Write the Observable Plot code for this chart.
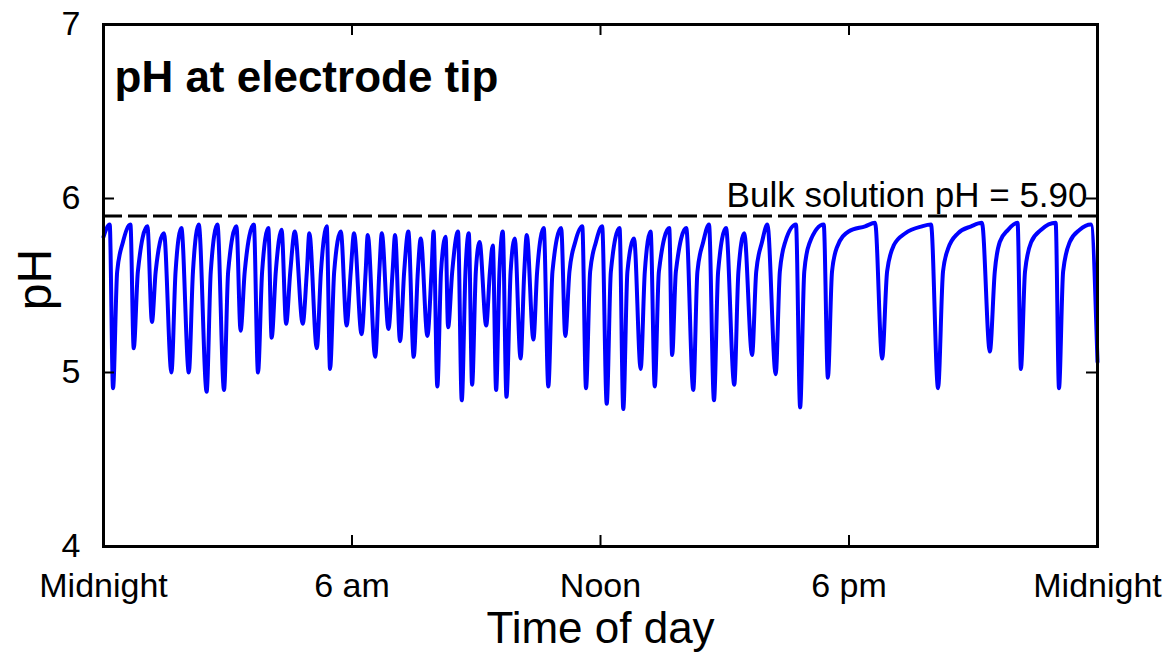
<!DOCTYPE html>
<html><head><meta charset="utf-8">
<script src="https://cdn.jsdelivr.net/npm/d3@7"></script>
<script src="https://cdn.jsdelivr.net/npm/@observablehq/plot@0.6"></script>
<style>
html,body{margin:0;padding:0;background:#fff;}
#chart svg{display:block;}
</style></head><body><div id="chart"></div>
<script>
// ---- Data ----
const xTicks = [0, 6, 12, 18, 24];
const xTickLabels = ["Midnight", "6 am", "Noon", "6 pm", "Midnight"];
const yTicks = [4, 5, 6, 7];
const yTickLabels = ["4", "5", "6", "7"];
const bulkPH = 5.90;
const bulkLabel = "Bulk solution pH = 5.90";
const chartTitle = "pH at electrode tip";
const xTitle = "Time of day";
const yTitle = "pH";

// local maxima just before each drop (hour of day, pH)
const peakHour = [0.15,0.65,1.06,1.46,1.88,2.30,2.75,3.21,3.63,3.98,4.30,4.62,4.97,5.39,5.73,6.05,6.38,6.72,7.04,7.36,7.66,7.97,8.26,8.56,8.82,9.08,9.40,9.64,9.93,10.22,10.63,11.05,11.56,12.04,12.46,12.81,13.21,13.66,14.07,14.62,15.03,15.47,16.03,16.72,17.39,18.63,19.98,21.21,22.07,22.99,23.84];
const peakPH = [5.85,5.85,5.84,5.80,5.83,5.85,5.85,5.84,5.85,5.83,5.82,5.81,5.80,5.84,5.81,5.80,5.79,5.80,5.79,5.81,5.77,5.81,5.78,5.81,5.80,5.75,5.73,5.81,5.77,5.79,5.83,5.83,5.84,5.84,5.83,5.77,5.81,5.83,5.83,5.85,5.83,5.80,5.85,5.85,5.85,5.86,5.85,5.86,5.86,5.86,5.85];

// minima of each dip (hour of day, pH); last one is the value at the right edge
const dipHour = [0.23,0.73,1.17,1.64,2.06,2.49,2.91,3.31,3.73,4.06,4.41,4.81,5.15,5.47,5.87,6.23,6.56,6.88,7.16,7.49,7.82,8.06,8.32,8.65,8.90,9.24,9.48,9.73,10.07,10.38,10.74,11.15,11.65,12.15,12.55,12.97,13.31,13.73,14.24,14.74,15.23,15.66,16.23,16.82,17.49,18.80,20.15,21.40,22.15,23.07,24.00];
const dipPH = [4.91,5.14,5.29,5.00,5.00,4.89,4.90,5.24,5.00,5.20,5.28,5.28,5.14,5.02,5.27,5.22,5.09,5.25,5.18,5.09,5.21,4.92,5.26,4.84,4.93,5.27,4.90,4.86,5.08,5.19,4.92,5.21,4.91,4.82,4.79,5.02,4.92,5.10,4.90,4.84,4.93,5.10,4.99,4.80,4.97,5.08,4.91,5.12,5.02,4.91,5.06];

// points on the recovery branches (first one is the start of the trace)
const riseHour = [0.00,0.33,0.47,0.83,1.26,1.74,2.16,2.59,3.01,3.41,3.83,4.16,4.51,4.91,5.25,5.57,5.97,6.33,6.66,6.98,7.26,7.59,7.92,8.15,8.42,8.74,8.99,9.33,9.56,9.83,10.16,10.47,10.84,11.25,11.39,11.75,11.89,12.25,12.65,13.07,13.41,13.82,14.34,14.48,14.84,15.33,15.76,15.90,16.33,16.46,16.92,17.04,17.59,17.71,17.99,18.39,18.92,19.08,19.36,19.76,20.27,20.39,20.63,20.95,21.52,21.64,21.84,22.25,22.40,22.64,23.17,23.33,23.57];
const risePH = [5.78,5.58,5.75,5.58,5.58,5.58,5.58,5.58,5.58,5.58,5.58,5.58,5.58,5.58,5.58,5.58,5.58,5.58,5.58,5.58,5.58,5.58,5.58,5.58,5.58,5.58,5.58,5.58,5.58,5.58,5.58,5.58,5.58,5.58,5.75,5.58,5.75,5.58,5.58,5.58,5.58,5.58,5.58,5.75,5.58,5.58,5.58,5.75,5.58,5.75,5.58,5.74,5.58,5.72,5.81,5.84,5.58,5.73,5.80,5.84,5.58,5.71,5.80,5.84,5.58,5.75,5.82,5.58,5.75,5.82,5.58,5.75,5.82];

// ---- build the trace table ----
const trace = [];
peakHour.forEach((h, i) => trace.push({hour: h, pH: peakPH[i]}));
dipHour.forEach((h, i) => trace.push({hour: h, pH: dipPH[i]}));
riseHour.forEach((h, i) => trace.push({hour: h, pH: risePH[i]}));
trace.sort((a, b) => a.hour - b.hour);

// ---- layout ----
const W = 1164, H = 653;
const mL = 103, mR = 67, mT = 24, mB = 107;
const plotW = W - mL - mR, plotH = H - mT - mB;
const tickLen = 11;
const font = "'Liberation Sans', Arial, Helvetica, sans-serif";
const innerY = yTicks.slice(1, -1);
const innerX = xTicks.slice(1, -1);

const chart = Plot.plot({
  width: W, height: H,
  marginLeft: mL, marginRight: mR, marginTop: mT, marginBottom: mB,
  style: {fontFamily: font, background: "#fff", color: "#000", overflow: "visible"},
  x: {domain: [xTicks[0], xTicks[xTicks.length - 1]], axis: null},
  y: {domain: [yTicks[0], yTicks[yTicks.length - 1]], axis: null},
  marks: [
    Plot.ruleY([bulkPH], {stroke: "#000", strokeWidth: 3, strokeDasharray: "19,6"}),
    Plot.line(trace, {x: "hour", y: "pH", stroke: "#0000ff", strokeWidth: 4, curve: "monotone-x", strokeLinejoin: "round"}),
    Plot.text([bulkLabel], {text: d => d, y: () => bulkPH, frameAnchor: "right", textAnchor: "end", lineAnchor: "bottom", dx: -10, dy: -9, fontSize: 35, fill: "#000"}),
    // inward ticks
    Plot.tickY(innerY, {y: d => d, insetRight: plotW - tickLen, stroke: "#000", strokeWidth: 2}),
    Plot.tickY(innerY, {y: d => d, insetLeft: plotW - tickLen, stroke: "#000", strokeWidth: 2}),
    Plot.tickX(innerX, {x: d => d, insetTop: plotH - tickLen, stroke: "#000", strokeWidth: 2}),
    Plot.tickX(innerX, {x: d => d, insetBottom: plotH - tickLen, stroke: "#000", strokeWidth: 2}),
    Plot.frame({stroke: "#000", strokeWidth: 3}),
    // tick labels
    Plot.axisY({ticks: yTicks, anchor: "left", tickSize: 0, tickPadding: 23, fontSize: 34, label: null,
      tickFormat: d => yTickLabels[yTicks.indexOf(d)]}),
    Plot.axisX({ticks: xTicks, anchor: "bottom", tickSize: 0, tickPadding: 26, fontSize: 34, label: null,
      tickFormat: d => xTickLabels[xTicks.indexOf(d)]}),
    // titles
    Plot.text([chartTitle], {text: d => d, frameAnchor: "top-left", textAnchor: "start", lineAnchor: "bottom", dx: 11, dy: 67, fontSize: 44, fontWeight: "bold", fill: "#000"}),
    Plot.text([xTitle], {text: d => d, frameAnchor: "bottom", textAnchor: "middle", lineAnchor: "bottom", dy: 96, fontSize: 44, fill: "#000"}),
    Plot.text([yTitle], {text: d => d, frameAnchor: "left", textAnchor: "middle", rotate: -90, lineAnchor: "middle", dx: -68, dy: -6, fontSize: 48, fill: "#000"})
  ]
});
document.getElementById("chart").appendChild(chart);
</script>
</body></html>
